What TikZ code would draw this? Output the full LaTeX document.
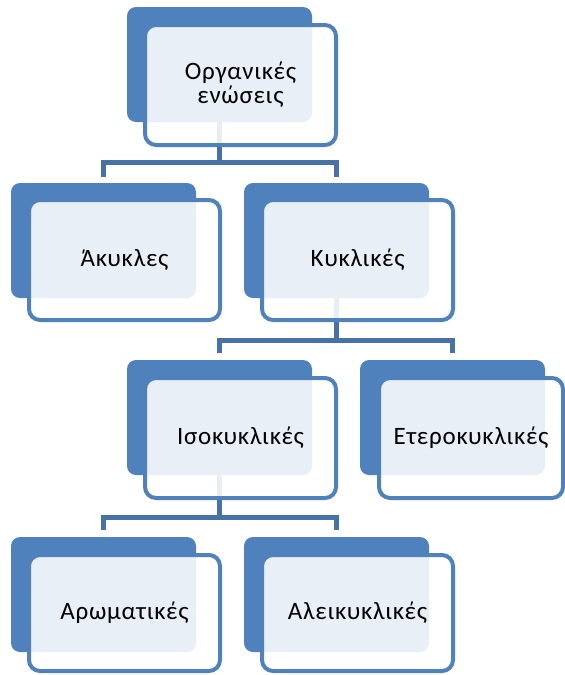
\documentclass[tikz,border=0pt]{standalone}
\usepackage{fontspec}
\setmainfont{Carlito}[LetterSpace=3]
\usetikzlibrary{backgrounds}
\definecolor{accent}{HTML}{4F81BD}
\definecolor{connc}{HTML}{4672A6}
\tikzset{
  backbox/.style={rectangle, rounded corners=9pt, fill=accent, inner sep=0pt,
    minimum width=185pt, minimum height=115pt},
  frontbox/.style={rectangle, rounded corners=11pt, draw=accent, line width=4pt,
    fill=white, fill opacity=0.88, text opacity=1, inner sep=0pt,
    minimum width=191pt, minimum height=120pt,
    font=\fontsize{25}{24}\selectfont, align=center},
  conn/.style={draw=connc, line width=5pt}
}
\begin{document}
\begin{tikzpicture}[x=1pt,y=-1pt]
\useasboundingbox (0,0) rectangle (565,675);
% back boxes
\node[backbox] (top-b)  at (219.5,64.5) {};
\node[frontbox] (top)   at (240.5,85) {Οργανικές\\ενώσεις};
\node[backbox] (akyk-b) at (103.5,240.5) {};
\node[frontbox] (akyk)  at (124.5,260) {Άκυκλες};
\node[backbox] (kykl-b) at (336.5,240.5) {};
\node[frontbox] (kykl)  at (357.5,260) {Κυκλικές};
\node[backbox] (iso-b)  at (219.5,417.5) {};
\node[frontbox] (iso)   at (240.5,438) {Ισοκυκλικές};
\node[backbox] (eter-b) at (452.5,417.5) {};
\node[frontbox, minimum width=184pt] (eter) at (471,438) {Ετεροκυκλικές};
\node[backbox] (arom-b) at (103.5,594.5) {};
\node[frontbox, minimum height=116pt] (arom) at (124.5,613) {Αρωματικές};
\node[backbox] (alei-b) at (336.5,594.5) {};
\node[frontbox, minimum height=116pt] (alei) at (357.5,613) {Αλεικυκλικές};
% junctions
\coordinate (j1) at (219.5,162.5);
\coordinate (j2) at (336.5,340);
\coordinate (j3) at (219.5,517);
\begin{scope}[on background layer]
  \draw[conn] (top-b.center) -- (j1);
  \draw[conn] ([yshift=6pt]akyk-b.north) |- (j1) -| ([yshift=6pt]kykl-b.north);
  \draw[conn] (kykl-b.center) -- (j2);
  \draw[conn] ([yshift=7pt]iso-b.north) |- (j2) -| ([yshift=7pt]eter-b.north);
  \draw[conn] (iso-b.center) -- (j3);
  \draw[conn] ([yshift=7pt]arom-b.north) |- (j3) -| ([yshift=7pt]alei-b.north);
\end{scope}
\end{tikzpicture}
\end{document}
